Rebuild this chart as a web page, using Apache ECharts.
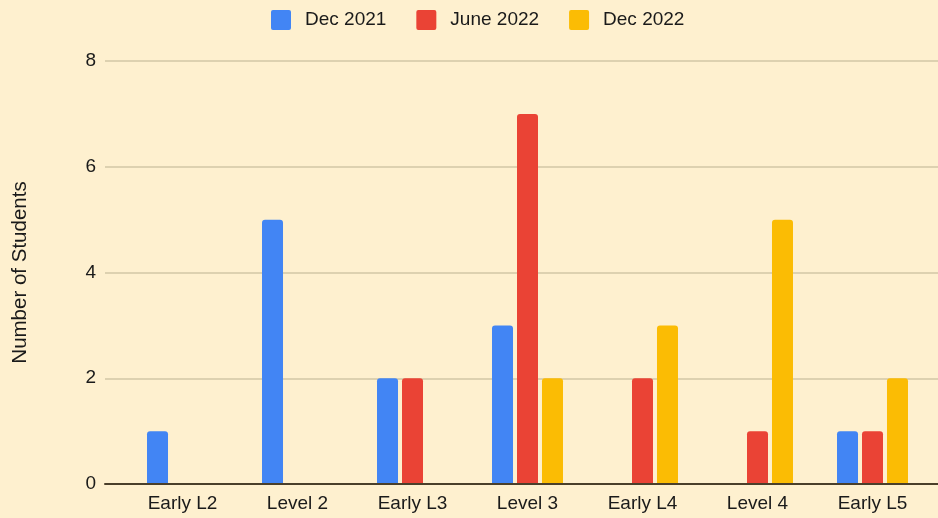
<!DOCTYPE html>
<html>
<head>
<meta charset="utf-8">
<script src="https://cdn.jsdelivr.net/npm/echarts@6/dist/echarts.min.js"></script>
<style>
  html, body { margin: 0; padding: 0; background: #fef0cf; }
  #chart { width: 938px; height: 518px; }
</style>
</head>
<body>
<div id="chart"></div>
<script>
// 类别和数据
const levels = ['Early L2', 'Level 2', 'Early L3', 'Level 3', 'Early L4', 'Level 4', 'Early L5'];
const dec2021 = [1, 5, 2, 3, 0, 0, 1];
const june2022 = [0, 0, 2, 7, 2, 1, 1];
const dec2022 = [0, 0, 0, 2, 3, 5, 2];
const yTicks = { min: 0, max: 8, interval: 2 };

const font = 'Liberation Sans, Arial, sans-serif';
const txt = '#1a1a1a';

var myChart = echarts.init(document.getElementById('chart'));

function barSeries(name, data, color) {
    return {
        name: name,
        type: 'bar',
        xAxisIndex: 1,
        yAxisIndex: 1,
        barWidth: 21,
        barGap: '19%',
        itemStyle: { color: color, borderRadius: [3, 3, 0, 0] },
        data: data
    };
}

var option = {
    backgroundColor: '#fef0cf',
    animation: false,
    textStyle: { fontFamily: font },
    legend: {
        top: 5,
        left: 266,
        itemWidth: 20,
        itemHeight: 20,
        itemGap: 30,
        icon: 'path://M2,0H18Q20,0,20,2V18Q20,20,18,20H2Q0,20,0,18V2Q0,0,2,0Z',
        textStyle: { fontSize: 19, color: txt, padding: [0, 0, 0, 9] },
        data: ['Dec 2021', 'June 2022', 'Dec 2022']
    },
    grid: [
        // 网格线和坐标轴线
        { left: 105, right: 0, top: 61, bottom: 34 },
        // 柱子
        { left: 125, right: 8, top: 61, bottom: 34 }
    ],
    xAxis: [
        {
            gridIndex: 0,
            type: 'category',
            data: levels,
            axisLine: { show: true, lineStyle: { color: '#4a3f2a', width: 2 } },
            axisTick: { show: false },
            axisLabel: { show: false },
            z: 5
        },
        {
            gridIndex: 1,
            type: 'category',
            data: levels,
            axisLine: { show: false },
            axisTick: { show: false },
            axisLabel: { fontSize: 19, color: txt, margin: 10 }
        }
    ],
    yAxis: [
        {
            gridIndex: 0,
            type: 'value',
            min: yTicks.min,
            max: yTicks.max,
            interval: yTicks.interval,
            name: 'Number of Students',
            nameLocation: 'middle',
            nameGap: 74,
            nameTextStyle: { fontSize: 20.5, color: txt },
            axisLabel: { fontSize: 19, color: txt, margin: 9 },
            splitLine: { lineStyle: { color: '#d2c7a6', width: 1.5 } },
            axisLine: { show: false },
            axisTick: { show: false }
        },
        {
            gridIndex: 1,
            type: 'value',
            min: yTicks.min,
            max: yTicks.max,
            interval: yTicks.interval,
            show: false,
            splitLine: { show: false }
        }
    ],
    series: [
        barSeries('Dec 2021', dec2021, '#4285f4'),
        barSeries('June 2022', june2022, '#ea4335'),
        barSeries('Dec 2022', dec2022, '#fbbc04')
    ]
};

option && myChart.setOption(option);
</script>
</body>
</html>
